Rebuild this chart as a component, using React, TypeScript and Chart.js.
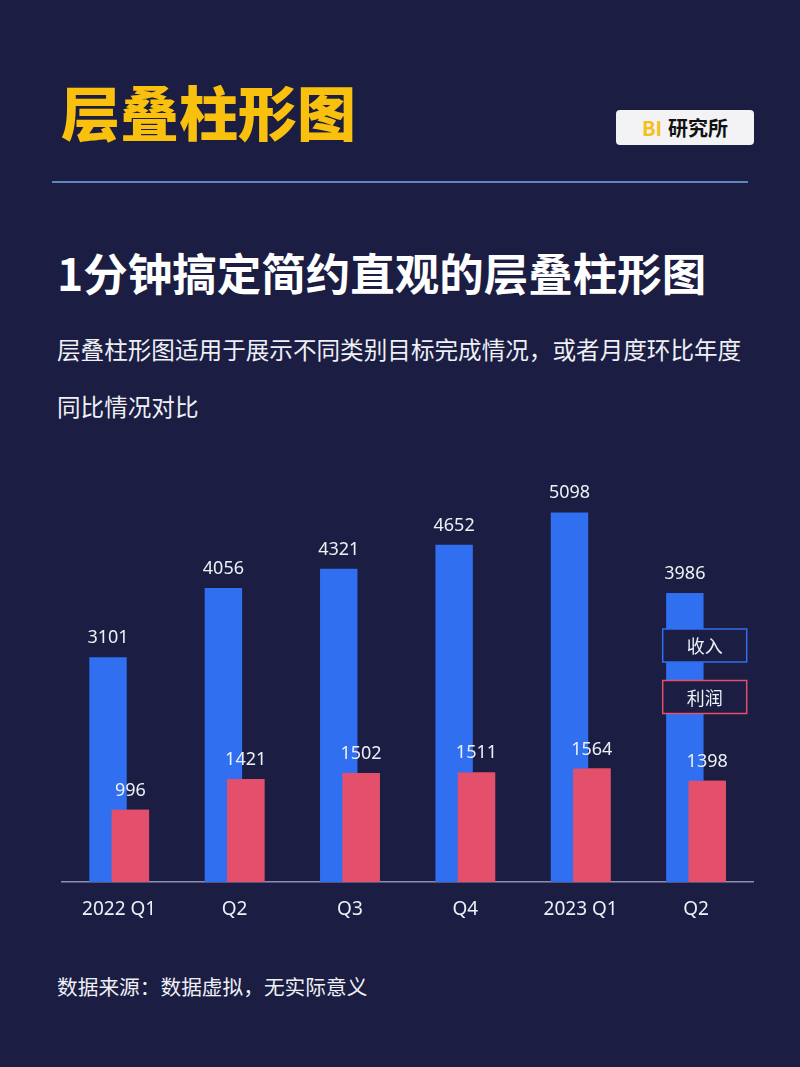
import { useEffect, useRef } from 'react';
import { Chart, registerables } from 'chart.js';

Chart.register(...registerables);

const BG_COLOR = '#1b1d42';
const BLUE = '#2f6ff0';
const RED = '#e4506b';
const TEXT_COLOR = '#eef0f6';
const FONT = '"Noto Sans", "Noto Sans CJK SC", sans-serif';
const CJK_FONT = '"Noto Sans CJK SC", "Noto Sans", sans-serif';

const quarters = ['2022 Q1', 'Q2', 'Q3', 'Q4', '2023 Q1', 'Q2'];
const revenue = [3101, 4056, 4321, 4652, 5098, 3986];
const profit = [996, 1421, 1502, 1511, 1564, 1398];
const seriesNames = ['收入', '利润'];

const LayeredBarChart = () => {
  const chartRef = useRef<HTMLCanvasElement | null>(null);

  useEffect(() => {
    if (chartRef.current === null) return () => {};
    const aChart = new Chart(chartRef.current, {
      type: 'bar',
      plugins: [{
        id: 'valueLabels',
        afterDatasetsDraw(chart) {
          const { ctx } = chart;
          // 利润 bars sit in front of 收入 bars, so draw them once more on top
          chart.getDatasetMeta(1).controller.draw();
          ctx.save();
          ctx.font = `18px ${FONT}`;
          ctx.fillStyle = TEXT_COLOR;
          ctx.textAlign = 'center';
          ctx.textBaseline = 'alphabetic';
          chart.data.datasets.forEach((dataset, di) => {
            const meta = chart.getDatasetMeta(di);
            meta.data.forEach((bar, i) => {
              ctx.fillText(`${dataset.data[i]}`, bar.x, bar.y - 14);
            });
          });
          ctx.restore();
        },
      }, {
        id: 'boxLegend',
        afterDraw(chart) {
          const { ctx, chartArea: { right, top } } = chart;
          const w = 84;
          const h = 33;
          const x = right - 7 - w;
          ctx.save();
          chart.data.datasets.forEach((dataset, di) => {
            const y = top + 182 + di * 51.5;
            ctx.fillStyle = BG_COLOR;
            ctx.fillRect(x, y, w, h);
            ctx.strokeStyle = dataset.backgroundColor as string;
            ctx.lineWidth = 1.5;
            ctx.strokeRect(x, y, w, h);
            ctx.fillStyle = TEXT_COLOR;
            ctx.font = `18px ${CJK_FONT}`;
            ctx.textAlign = 'center';
            ctx.textBaseline = 'middle';
            ctx.fillText(dataset.label as string, x + w / 2, y + h / 2 + 1);
          });
          ctx.restore();
        },
      }],
      data: {
        labels: quarters,
        datasets: [{
          label: seriesNames[0],
          data: revenue,
          backgroundColor: BLUE,
          categoryPercentage: 0.387,
          barPercentage: 1.677,
        }, {
          label: seriesNames[1],
          data: profit,
          backgroundColor: RED,
          categoryPercentage: 0.387,
          barPercentage: 1.677,
        }],
      },
      options: {
        animation: false,
        responsive: false,
        layout: {
          padding: { left: 61.5, right: 46.3, top: 17, bottom: 0 },
        },
        plugins: {
          legend: { display: false },
          tooltip: { enabled: false },
        },
        scales: {
          y: {
            display: false,
            min: 0,
            max: 6000,
          },
          x: {
            grid: { display: false, drawTicks: false },
            border: { display: true, color: '#8a8fb2', width: 1.5 },
            ticks: {
              color: TEXT_COLOR,
              font: { size: 19, family: FONT },
              padding: 16,
              maxRotation: 0,
              autoSkip: false,
            },
            afterFit(scale) {
              scale.height = 48;
            },
          },
        },
      },
    });
    return () => {
      aChart.destroy();
    };
  }, []);

  return (
    <canvas
      ref={chartRef}
      width={800}
      height={500}
      style={{ position: 'absolute', left: 0, top: 430, width: 800, height: 500 }}
    />
  );
};

const App = () => (
  <div
    style={{
      position: 'absolute',
      left: 0,
      top: 0,
      width: 800,
      height: 1067,
      background: BG_COLOR,
      overflow: 'hidden',
      fontFamily: CJK_FONT,
      color: TEXT_COLOR,
    }}
  >
    <div
      style={{
        position: 'absolute', left: 61, top: 81, fontSize: 59, lineHeight: '59px',
        fontWeight: 900, color: '#f9c10e', whiteSpace: 'nowrap',
      }}
    >
      层叠柱形图
    </div>
    <div
      style={{
        position: 'absolute', left: 616, top: 110, width: 138, height: 35,
        background: '#f3f3f5', borderRadius: 4, display: 'flex',
        alignItems: 'center', justifyContent: 'center', fontSize: 20,
        fontWeight: 700, color: '#111',
      }}
    >
      <span style={{ color: '#f5c018', marginRight: 6 }}>BI</span>
      研究所
    </div>
    <div
      style={{
        position: 'absolute', left: 52, top: 181, width: 696, height: 1.5,
        background: '#5f86b8',
      }}
    />
    <div
      style={{
        position: 'absolute', left: 57, top: 250, fontSize: 44.5, lineHeight: '44px',
        fontWeight: 700, color: '#ffffff', whiteSpace: 'nowrap',
      }}
    >
      1分钟搞定简约直观的层叠柱形图
    </div>
    <div
      style={{
        position: 'absolute', left: 57, top: 321, fontSize: 23.6, lineHeight: '57px',
        whiteSpace: 'nowrap',
      }}
    >
      层叠柱形图适用于展示不同类别目标完成情况，或者月度环比年度
      <br />
      同比情况对比
    </div>
    <LayeredBarChart />
    <div
      style={{
        position: 'absolute', left: 57, top: 976, fontSize: 20.7, lineHeight: '20.7px',
        whiteSpace: 'nowrap',
      }}
    >
      数据来源：数据虚拟，无实际意义
    </div>
  </div>
);

export default App;
